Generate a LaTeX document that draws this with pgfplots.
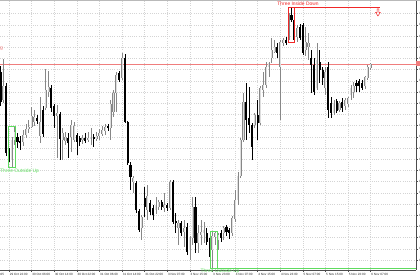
\documentclass[border=0pt]{standalone}
\usepackage{pgfplots}
\pgfplotsset{compat=1.18}
\usepackage{pgfplotstable}
\usepackage{fontspec}
\setmainfont{Liberation Sans}
\definecolor{bullfill}{RGB}{222,222,222}
\definecolor{bulledge}{RGB}{135,135,135}
\definecolor{lvl}{RGB}{240,125,125}
\definecolor{pred}{RGB}{240,40,40}
\definecolor{pgreen}{RGB}{95,220,95}
\definecolor{gridc}{RGB}{212,212,212}

\pgfplotstableread{
i o h l c
0 198 204 164 168
1 170 211 167 184
2 184 187 114 117
3 120 122 108 112
4 110 133 103 130
5 130 143 125 138
6 133 137 122 128
7 129 134 120 127
8 128 140 124 135
9 135 146 132 141
10 141 150 137 143
11 143 163 142 154
12 148 160 144 153
13 152 155 146 149
14 134 173 127 148
15 160 164 133 136
16 162 201 160 180
17 178 199 173 183
18 182 185 158 162
19 164 166 142 154
20 154 165 112 157
21 156 158 110 131
22 130 142 110 137
23 129 138 125 133
24 132 137 112 127
25 133 150 118 145
26 130 148 128 144
27 135 137 115 128
28 132 134 124 128
29 130 135 126 132
30 132 137 127 129
31 130 138 128 132
32 131 142 125 133
33 133 136 123 131
34 131 138 129 134
35 134 141 130 137
36 136 144 134 140
37 139 146 135 143
38 144 146 139 142
39 142 170 130 166
40 158 180 153 177
41 177 198 158 195
42 197 199 188 190
43 192 217 190 212
44 212 216 147 148
45 148 149 105 107
46 105 108 80 93
47 88 94 77 92
48 87 89 57 60
49 59 61 38 40
50 42 55 30 53
51 72 83 53 63
52 60 85 50 74
53 67 70 55 58
54 62 65 50 55
55 60 73 56 65
56 63 70 60 68
57 68 70 60 63
58 62 77 58 65
59 65 67 59 62
60 62 90 60 88
61 88 90 46 48
62 49 57 37 47
63 42 50 25 47
64 47 49 34 37
65 38 50 23 42
66 43 47 15 18
67 20 34 10 32
68 32 73 25 63
69 63 73 17 27
70 27 45 17 37
71 35 50 25 38
72 37 48 27 40
73 37 42 25 28
74 30 32 13 23
75 20 38 2 34
76 33 39 25 37
77 30 37 20 35
78 37 40 28 32
79 37 44 30 42
80 43 45 34 38
81 40 42 31 37
82 37 54 34 52
83 51 80 48 70
84 70 98 65 94
85 94 132 92 130
86 130 177 128 168
87 168 187 130 150
88 152 183 137 145
89 145 147 110 123
90 145 157 142 155
91 155 170 130 147
92 147 184 145 182
93 180 198 173 185
94 185 208 182 203
95 203 208 193 207
96 212 232 207 220
97 218 230 217 223
98 223 227 212 217
99 203 230 150 228
100 227 232 224 230
101 230 233 225 227
102 230 258 228 257
103 255 263 248 250
104 250 252 228 230
105 233 245 228 242
106 243 246 230 232
107 245 247 215 217
108 220 243 214 228
109 223 237 210 227
110 212 220 177 205
111 205 212 175 178
112 182 227 180 210
113 208 220 187 200
114 200 203 185 192
115 182 203 175 198
116 203 208 152 160
117 167 173 152 157
118 157 170 155 167
119 169 171 157 159
120 160 169 158 167
121 168 172 158 162
122 164 172 160 170
123 166 173 163 172
124 175 185 170 182
125 178 188 172 184
126 187 190 178 184
127 189 191 178 184
128 187 190 180 182
129 184 194 181 193
130 192 205 190 203
131 202 207 200 206
}\candles

\begin{document}
\begin{tikzpicture}
\begin{axis}[
  scale only axis, width=416pt, height=269pt,
  at={(0pt,0pt)}, anchor=south west,
  xmin=-0.186, xmax=147.07, ymin=0, ymax=269,
  clip=false,
  axis x line*=bottom, axis y line*=right,
  axis line style={-, draw=black!70, line width=0.5pt},
  tick align=outside, major tick length=2pt,
  tick style={black!70, line width=0.4pt},
  xtick={3,11,...,131},
  xticklabels={29 Oct 22:00,30 Oct 06:00,30 Oct 14:00,30 Oct 22:00,31 Oct 06:00,31 Oct 14:00,31 Oct 22:00,3 Nov 07:00,3 Nov 15:00,3 Nov 23:00,4 Nov 07:00,4 Nov 15:00,4 Nov 23:00,5 Nov 07:00,5 Nov 15:00,5 Nov 23:00,6 Nov 07:00},
  xticklabel style={anchor=north west, inner sep=0pt, xshift=0.6pt, yshift=-1.2pt},
  ytick={10,21.2,...,256.5},
  yticklabels={1.2190,1.2200,1.2210,1.2220,1.2230,1.2240,1.2250,1.2260,1.2270,1.2280,1.2290,1.2300,1.2310,1.2320,1.2330,1.2340,1.2350,1.2360,1.2370,1.2380,1.2390,1.2400,1.2410},
  yticklabel style={anchor=west, inner sep=0pt, xshift=0.8pt},
  ticklabel style={font=\fontsize{3.1}{3.4}\selectfont, text=black!85},
  grid=major,
  major grid style={draw=gridc, dash pattern=on 0.6pt off 1.6pt, line width=0.5pt},
]
% level line
\draw[lvl, line width=0.8pt] (axis cs:-0.186,206) -- (axis cs:147.07,206);
% wicks
\addplot[forget plot, draw=none, mark=none,
  restrict expr to domain={\thisrow{c}-\thisrow{o}}{0.001:1000},
  error bars/.cd, y dir=plus, y explicit, error mark=none,
  error bar style={draw=bulledge, line width=0.6pt}]
  table[x=i, y=l, y error expr=\thisrow{h}-\thisrow{l}] {\candles};
\addplot[forget plot, draw=none, mark=none,
  restrict expr to domain={\thisrow{o}-\thisrow{c}}{0.001:1000},
  error bars/.cd, y dir=plus, y explicit, error mark=none,
  error bar style={draw=black, line width=0.6pt}]
  table[x=i, y=l, y error expr=\thisrow{h}-\thisrow{l}] {\candles};
% bull bodies
\addplot[forget plot, draw=none, mark=none,
  restrict expr to domain={\thisrow{c}-\thisrow{o}}{0.001:1000},
  error bars/.cd, y dir=plus, y explicit, error mark=none,
  error bar style={draw=bulledge, line width=2.1pt}]
  table[x=i, y=o, y error expr=\thisrow{c}-\thisrow{o}] {\candles};
\addplot[forget plot, draw=none, mark=none,
  restrict expr to domain={\thisrow{c}-\thisrow{o}}{0.001:1000},
  error bars/.cd, y dir=plus, y explicit, error mark=none,
  error bar style={draw=bullfill, line width=0.9pt}]
  table[x=i, y=o, y error expr=\thisrow{c}-\thisrow{o}] {\candles};
% bear bodies
\addplot[forget plot, draw=none, mark=none,
  restrict expr to domain={\thisrow{o}-\thisrow{c}}{0.001:1000},
  error bars/.cd, y dir=plus, y explicit, error mark=none,
  error bar style={draw=black, line width=2.1pt}]
  table[x=i, y=c, y error expr=\thisrow{o}-\thisrow{c}] {\candles};
% level label and price box
\fill[lvl] (axis cs:147.07,203.5) rectangle (axis cs:149,208.5);
\node[anchor=east, inner sep=0pt, text=lvl, font=\fontsize{5}{5}\selectfont] at (axis cs:0.95,221) {g};
% Three Outside Up (1)
\draw[pgreen, line width=0.8pt] (axis cs:2.65,103) rectangle (axis cs:5.12,144);
\node[anchor=north west, inner sep=0pt, text=pgreen, font=\fontsize{4.9}{5}\selectfont] at (axis cs:-0.186,100.8) {Three Outside Up};
% Three Outside Up (2)
\draw[pgreen, line width=0.8pt] (axis cs:74.15,2) rectangle (axis cs:76.6,39);
\draw[pgreen, line width=0.8pt] (axis cs:76.6,2) -- (axis cs:147.07,2);
\node[anchor=north, inner sep=0pt, text=pgreen, font=\fontsize{4.9}{5}\selectfont] at (axis cs:77.7,1.2) {Three Outside Up};
% Three Inside Down
\draw[pred, line width=0.9pt] (axis cs:101.76,228) rectangle (axis cs:104.2,263);
\draw[pred, line width=0.9pt] (axis cs:104.2,263) -- (axis cs:134.3,263);
\draw[pred, fill=white, line width=0.5pt] (axis cs:133.3,261) -- (axis cs:133.9,261) -- (axis cs:133.9,257.5) -- (axis cs:134.4,257.5) -- (axis cs:133.6,254) -- (axis cs:132.8,257.5) -- (axis cs:133.3,257.5) -- cycle;
\node[inner sep=0pt, text=pred, font=\fontsize{4.9}{5}\selectfont] at (axis cs:105.3,266.3) {Three Inside Down};
% cut first date label
\node[anchor=north west, inner sep=0pt, xshift=0.6pt, yshift=-3.2pt, font=\fontsize{3.1}{3.4}\selectfont, text=black!85] at (axis cs:-5,0) {29 Oct 2025};
\end{axis}
\draw[gray!55, line width=1pt] (0pt,269.5pt) -- (420pt,269.5pt);
\pgfresetboundingbox
\path[use as bounding box] (0pt,-10pt) rectangle (420pt,270pt);
\end{tikzpicture}
\end{document}
